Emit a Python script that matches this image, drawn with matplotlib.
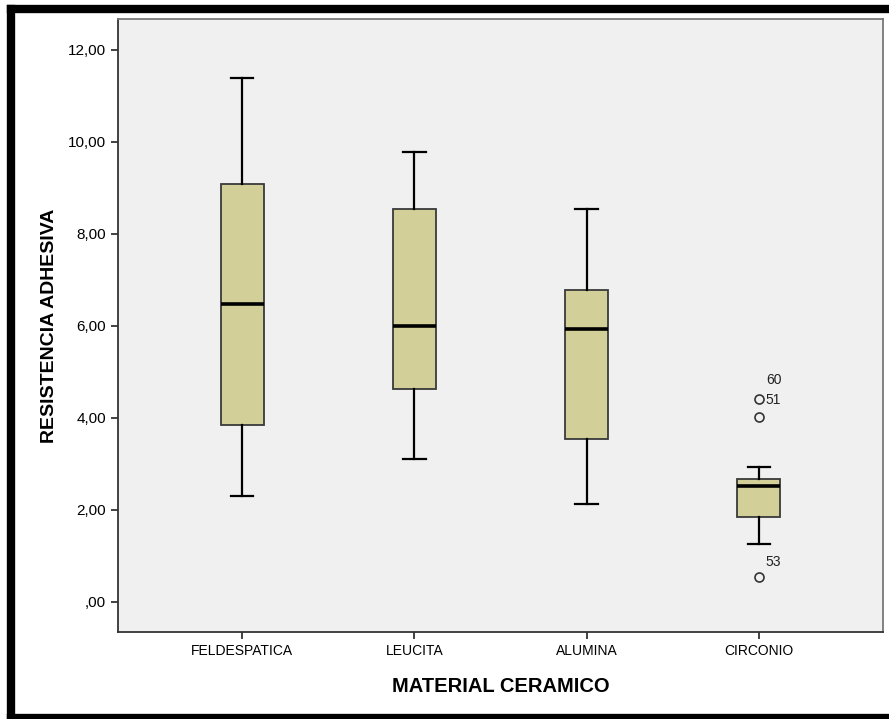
import matplotlib
matplotlib.use('Agg')
import matplotlib.pyplot as plt
from matplotlib.lines import Line2D

plt.rcParams['font.family'] = ['Liberation Sans', 'DejaVu Sans']

# Data
materials = ['FELDESPATICA', 'LEUCITA', 'ALUMINA', 'CIRCONIO']
whisker_low = [2.30, 3.11, 2.13, 1.25]
q1 = [3.85, 4.63, 3.54, 1.85]
medians = [6.48, 6.00, 5.93, 2.52]
q3 = [9.09, 8.54, 6.78, 2.67]
whisker_high = [11.39, 9.78, 8.54, 2.94]
outliers = [[], [], [], [4.41, 4.02, 0.54]]
outlier_labels = ['60', '51', '53']
outlier_label_vals = [4.83, 4.40, 0.88]

yticks = [0, 2, 4, 6, 8, 10, 12]
ytick_labels = [',00', '2,00', '4,00', '6,00', '8,00', '10,00', '12,00']

W, H = 889, 719
fig = plt.figure(figsize=(W / 100, H / 100), dpi=100)
ax = fig.add_axes([118 / W, 1 - 632 / H, (883 - 118) / W, (632 - 19) / H])
ax.set_facecolor('#F0F0F0')

stats = []
for i in range(len(materials)):
    stats.append({
        'whislo': whisker_low[i], 'q1': q1[i], 'med': medians[i],
        'q3': q3[i], 'whishi': whisker_high[i], 'fliers': outliers[i],
    })

pos = list(range(1, len(materials) + 1))
ax.bxp(stats, positions=pos, widths=0.25, patch_artist=True,
       boxprops=dict(facecolor='#D3CF98', edgecolor='#3a3a3a', linewidth=1.3),
       medianprops=dict(color='black', linewidth=2.6),
       whiskerprops=dict(color='black', linewidth=1.6),
       capprops=dict(color='black', linewidth=1.6),
       capwidths=0.13,
       flierprops=dict(marker='o', markersize=6.5, markerfacecolor='none',
                       markeredgecolor='#333333', markeredgewidth=1.2))

for lab, v in zip(outlier_labels, outlier_label_vals):
    ax.text(4.04, v, lab, fontsize=10, color='#222222', va='center', ha='left')

ax.set_xlim(0.28, 4.72)
ax.set_ylim(-0.652, 12.67)
ax.set_yticks(yticks)
ax.set_yticklabels(ytick_labels, fontsize=11)
ax.set_xticks(pos)
ax.set_xticklabels(materials, fontsize=10)
ax.tick_params(axis='both', direction='out', length=5, width=1.3, color='#333333')

for s in ['left', 'bottom']:
    ax.spines[s].set_color('#333333')
    ax.spines[s].set_linewidth(1.3)
for s in ['top', 'right']:
    ax.spines[s].set_color('#777777')
    ax.spines[s].set_linewidth(1.3)

ax.set_xlabel('MATERIAL CERAMICO', fontsize=14.5, fontweight='bold', labelpad=14)
ax.set_ylabel('RESISTENCIA ADHESIVA', fontsize=14, fontweight='bold', labelpad=7)

# Black outer frame (left, top, bottom; cropped on the right)
px = lambda x: x / W
py = lambda y: 1 - y / H
frame = dict(color='black', linewidth=6, transform=fig.transFigure, solid_capstyle='projecting')
fig.add_artist(Line2D([px(11), px(11)], [py(9), py(719)], **frame))
fig.add_artist(Line2D([px(11), px(889)], [py(9), py(9)], **frame))
fig.add_artist(Line2D([px(11), px(889)], [py(718), py(718)], **frame))

fig.savefig('out.png', dpi=100)
